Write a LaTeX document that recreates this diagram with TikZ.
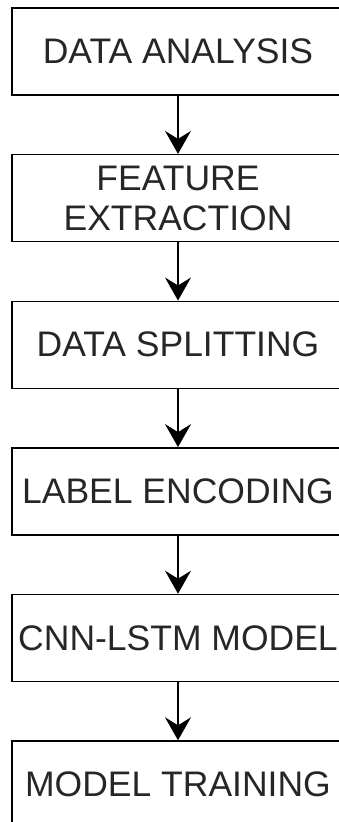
\documentclass[tikz,border=0pt]{standalone}
\usepackage{fontspec}
\setmainfont{Liberation Sans}
\usepackage{tikz}
\usetikzlibrary{positioning,arrows.meta}
\tikzset{stepbox/.style={draw, rectangle, line width=1.4pt, minimum width=332pt, minimum height=87pt, inner sep=0pt, align=center, text=black!85, font=\fontsize{35.5}{40}\selectfont}, flow/.style={line width=1.4pt, -{Stealth[length=23pt, width=26pt, inset=8pt]}}}

\begin{document}
\begin{tikzpicture}[x=1pt, y=1pt, node distance=58.2pt]
      \useasboundingbox (0,0) rectangle (338,-822);
      \node [stepbox] (analysis) at (178,-51.5) {DATA ANALYSIS};
      \node [stepbox, below=of analysis] (extraction) {FEATURE\\EXTRACTION};
      \node [stepbox, below=of extraction] (splitting) {DATA SPLITTING};
      \node [stepbox, below=of splitting] (encoding) {LABEL ENCODING};
      \node [stepbox, below=of encoding] (model) {CNN-LSTM MODEL};
      \node [stepbox, below=of model] (training) {MODEL TRAINING};
      \draw [flow] (analysis) -- (extraction);
      \draw [flow] (extraction) -- (splitting);
      \draw [flow] (splitting) -- (encoding);
      \draw [flow] (encoding) -- (model);
      \draw [flow] (model) -- (training);
    \end{tikzpicture}
\end{document}
